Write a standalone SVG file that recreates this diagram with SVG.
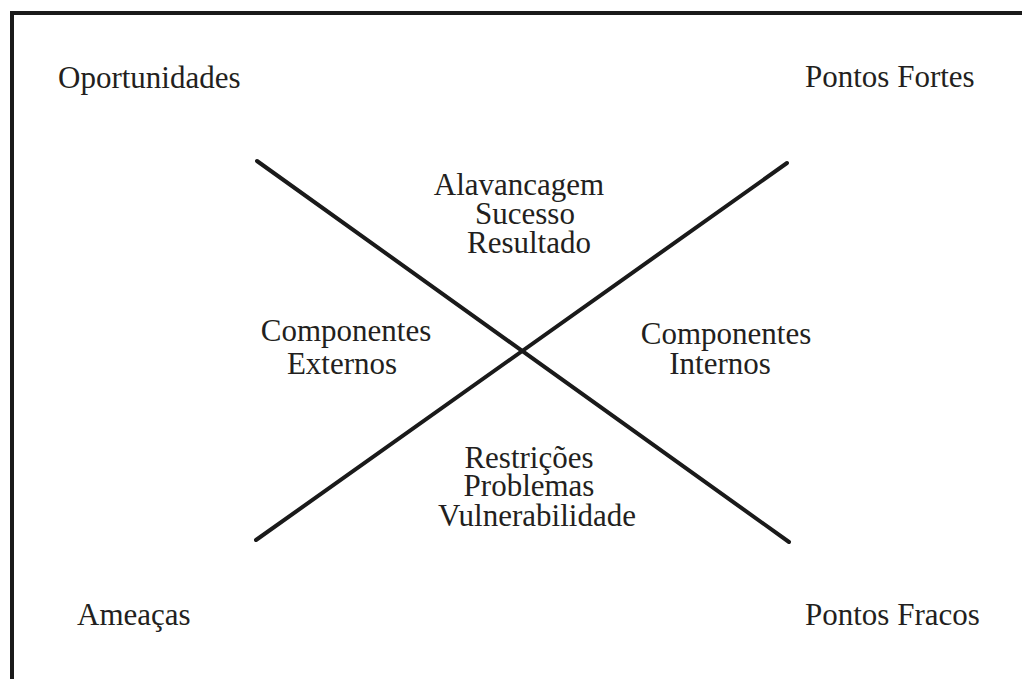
<svg xmlns="http://www.w3.org/2000/svg" width="1022" height="679" viewBox="0 0 1022 679">
<style>
text{font-family:"Liberation Serif","Times New Roman",serif;font-size:31px;fill:#231f20}
.c{text-anchor:middle}
.ln{stroke:#1a1a1a;stroke-width:4;stroke-linecap:round;fill:none}
</style>
<rect width="1022" height="679" fill="#ffffff"/>
<path d="M12,690 V13 H1030" fill="none" stroke="#1a1a1a" stroke-width="4"/>
<g id="connectors">
<line class="ln" x1="257" y1="161" x2="789" y2="542"/>
<line class="ln" x1="256" y1="540" x2="787" y2="163"/>
</g>
<g id="oportunidades"><text x="58" y="88">Oportunidades</text></g>
<g id="pontos-fortes"><text x="805" y="87">Pontos Fortes</text></g>
<g id="ameacas"><text x="77" y="625">Ameaças</text></g>
<g id="pontos-fracos"><text x="805" y="625">Pontos Fracos</text></g>
<g id="topo">
<text class="c" x="519" y="195">Alavancagem</text>
<text class="c" x="525" y="224">Sucesso</text>
<text class="c" x="529" y="253">Resultado</text>
</g>
<g id="externos">
<text class="c" x="346" y="341">Componentes</text>
<text class="c" x="342" y="374">Externos</text>
</g>
<g id="internos">
<text class="c" x="726" y="344">Componentes</text>
<text class="c" x="720" y="374">Internos</text>
</g>
<g id="base">
<text class="c" x="529" y="468">Restrições</text>
<text class="c" x="529" y="496">Problemas</text>
<text class="c" x="537" y="526">Vulnerabilidade</text>
</g>
</svg>
